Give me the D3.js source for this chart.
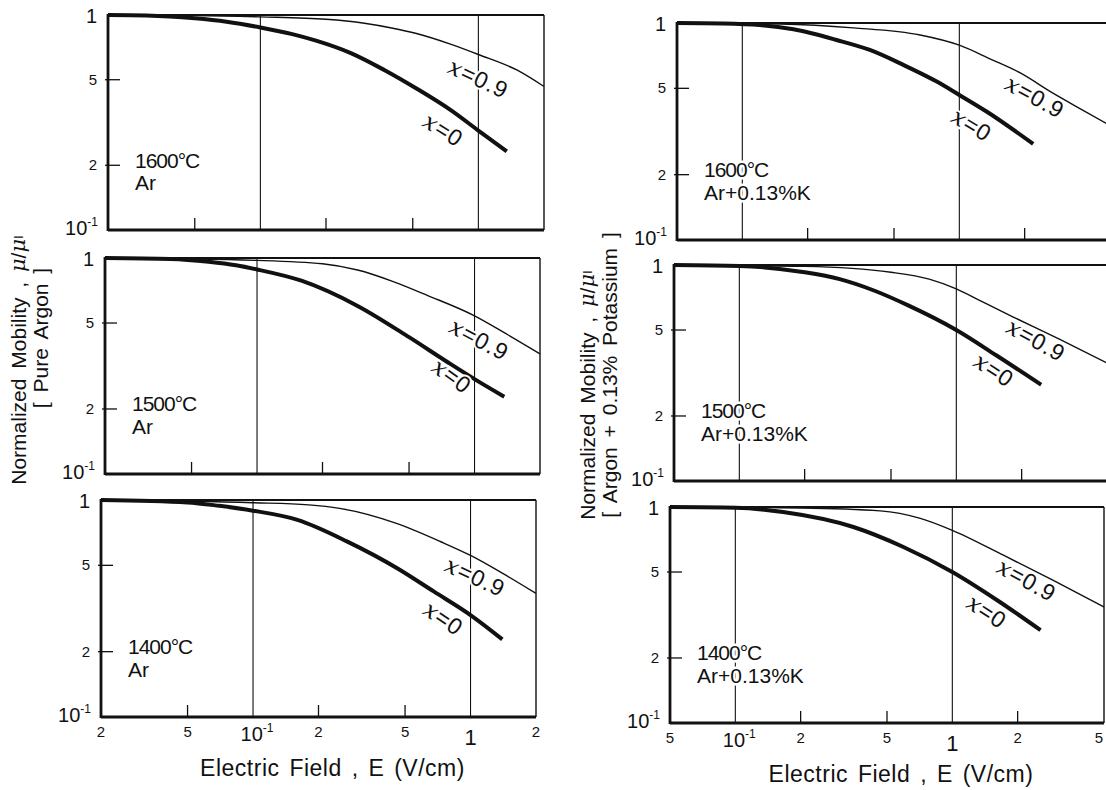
<!DOCTYPE html>
<html>
<head>
<meta charset="utf-8">
<script src="https://cdn.jsdelivr.net/npm/d3@7"></script>
<style>
  body { margin: 0; background: #fff; }
  svg text { font-family: "Liberation Sans", Arial, sans-serif; fill: #111; }
</style>
</head>
<body>
<script>
// values: E in V/cm, mobility as mu/mu_I

var tempLabels = ["1600°C", "1500°C", "1400°C"];
var gasLabels = ["Ar", "Ar+0.13%K"];
var fieldDomains = [[0.02, 2], [0.05, 5]];
var fieldTicks = [[0.02, 0.05, 0.1, 0.2, 0.5, 1, 2], [0.05, 0.1, 0.2, 0.5, 1, 2, 5]];
var minorTicks = [[0.05, 0.2, 0.5], [0.2, 0.5, 2]];
var gridE = [0.1, 1];
var muTicks = [1, 0.5, 0.2, 0.1];

// pure argon, x = 0 (thick) and x = 0.9 (thin)
var ar1600_x0  = [[0.02,1.0],[0.03,0.995],[0.05,0.965],[0.07,0.93],[0.1,0.875],[0.14,0.815],[0.18,0.76],[0.26,0.665],[0.37,0.555],[0.52,0.455],[0.75,0.36],[1.0,0.29],[1.35,0.232]];
var ar1600_x09 = [[0.02,1.0],[0.05,0.995],[0.1,0.98],[0.2,0.955],[0.3,0.915],[0.4,0.87],[0.52,0.82],[0.75,0.73],[1.0,0.655],[1.5,0.555],[2.0,0.465]];
var ar1500_x0  = [[0.02,1.0],[0.04,0.99],[0.06,0.96],[0.08,0.925],[0.1,0.885],[0.16,0.785],[0.29,0.6],[0.5,0.43],[0.75,0.33],[1.0,0.275],[1.37,0.228]];
var ar1500_x09 = [[0.02,1.0],[0.1,0.975],[0.2,0.94],[0.29,0.88],[0.42,0.78],[0.61,0.67],[1.0,0.54],[1.43,0.44],[2.0,0.36]];
var ar1400_x0  = [[0.02,1.0],[0.05,0.975],[0.07,0.94],[0.1,0.893],[0.16,0.81],[0.27,0.645],[0.46,0.485],[0.68,0.378],[1.0,0.295],[1.4,0.228]];
var ar1400_x09 = [[0.02,1.0],[0.1,0.972],[0.18,0.95],[0.25,0.915],[0.46,0.778],[0.73,0.642],[1.0,0.555],[1.4,0.46],[2.0,0.371]];

// argon + 0.13% potassium
var k1600_x0  = [[0.05,1.0],[0.08,0.995],[0.12,0.979],[0.172,0.935],[0.272,0.835],[0.387,0.751],[0.552,0.641],[0.787,0.537],[1.0,0.466],[1.34,0.39],[2.19,0.277]];
var k1600_x09 = [[0.05,1.0],[0.15,0.99],[0.325,0.95],[0.66,0.88],[1.0,0.79],[1.4,0.68],[1.9,0.59],[2.7,0.475],[3.7,0.397],[5,0.335]];
var k1500_x0  = [[0.05,1.0],[0.1,0.99],[0.2,0.925],[0.29,0.86],[0.42,0.76],[0.6,0.65],[1.0,0.5],[1.52,0.383],[2.46,0.279]];
var k1500_x09 = [[0.05,1.0],[0.2,0.985],[0.5,0.925],[0.75,0.86],[1.0,0.775],[1.3,0.68],[1.83,0.574],[3.0,0.452],[5.0,0.35]];
var k1400_x0  = [[0.05,1.0],[0.1,0.993],[0.166,0.948],[0.35,0.808],[0.595,0.653],[1.0,0.5],[1.61,0.37],[2.55,0.269]];
var k1400_x09 = [[0.05,1.0],[0.2,0.99],[0.466,0.96],[0.712,0.886],[1.0,0.78],[1.72,0.598],[2.92,0.457],[5.0,0.344]];

// where the "x = ..." labels sit (E, mu) and their slant
var x09LabelAt = [[1.0,0.507],[1.05,0.42],[1.05,0.443],[2.23,0.457],[2.33,0.449],[2.2,0.459]];
var x0LabelAt  = [[0.69,0.292],[0.787,0.284],[0.75,0.285],[1.14,0.339],[1.49,0.326],[1.44,0.328]];
var x09Angle = [25, 28, 25, 29, 29, 29];
var x0Angle  = [32, 36, 34, 31, 33, 33];

var thinCurves  = [ar1600_x09, ar1500_x09, ar1400_x09, k1600_x09, k1500_x09, k1400_x09];
var thickCurves = [ar1600_x0, ar1500_x0, ar1400_x0, k1600_x0, k1500_x0, k1400_x0];

// frames of the six panels (the scan is a little skewed)
var frames = [
  {x0:108, x1:544,  y0:15,  y1:230},
  {x0:105, x1:540,  y0:258, y1:474},
  {x0:101, x1:536,  y0:500, y1:717},
  {x0:677, x1:1111, y0:23,  y1:240},
  {x0:674, x1:1108, y0:265, y1:481},
  {x0:670, x1:1104, y0:507, y1:723}
];

var width = 1106, height = 790;
var svg = d3.select("body").append("svg")
    .attr("width", width).attr("height", height);

function mantissa(v) {
  var e = Math.floor(Math.log10(v) + 1e-9);
  return Math.round(v / Math.pow(10, e));
}

frames.forEach(function(f, i) {
  var col = i < 3 ? 0 : 1, row = i % 3;
  var x = d3.scaleLog().domain(fieldDomains[col]).range([f.x0, f.x1]);
  var y = d3.scaleLog().domain([0.1, 1]).range([f.y1, f.y0]);
  var g = svg.append("g");

  // vertical grid at 10^-1 and 1
  g.selectAll(".grid").data(gridE).enter().append("line")
    .attr("x1", function(d){ return x(d); }).attr("x2", function(d){ return x(d); })
    .attr("y1", f.y0).attr("y2", f.y1)
    .attr("stroke", "#111").attr("stroke-width", 1.1);

  // short ticks standing on the bottom axis
  g.selectAll(".minor").data(minorTicks[col]).enter().append("line")
    .attr("x1", function(d){ return x(d); }).attr("x2", function(d){ return x(d); })
    .attr("y1", f.y1).attr("y2", f.y1 - 12)
    .attr("stroke", "#111").attr("stroke-width", 1.3);

  // y ticks at 5 and 2
  g.selectAll(".ytick").data([0.5, 0.2]).enter().append("line")
    .attr("x1", f.x0 - 3).attr("x2", f.x0 + 12)
    .attr("y1", function(d){ return y(d); }).attr("y2", function(d){ return y(d); })
    .attr("stroke", "#111").attr("stroke-width", 1.3);

  var line = d3.line()
    .x(function(d){ return x(d[0]); })
    .y(function(d){ return y(d[1]); })
    .curve(d3.curveMonotoneX);

  g.append("path").datum(thinCurves[i]).attr("d", line)
    .attr("fill", "none").attr("stroke", "#111").attr("stroke-width", 1.4);
  g.append("path").datum(thickCurves[i]).attr("d", line)
    .attr("fill", "none").attr("stroke", "#111").attr("stroke-width", 4);

  // frame: heavy left/bottom, lighter top and right
  g.append("line").attr("x1", f.x0).attr("x2", f.x0).attr("y1", f.y0 - 1).attr("y2", f.y1 + 1)
    .attr("stroke", "#111").attr("stroke-width", 2.8);
  g.append("line").attr("x1", f.x0).attr("x2", f.x1).attr("y1", f.y1).attr("y2", f.y1)
    .attr("stroke", "#111").attr("stroke-width", 2.8);
  g.append("line").attr("x1", f.x0).attr("x2", f.x1).attr("y1", f.y0).attr("y2", f.y0)
    .attr("stroke", "#111").attr("stroke-width", 2.2);
  g.append("line").attr("x1", f.x1).attr("x2", f.x1).attr("y1", f.y0).attr("y2", f.y1)
    .attr("stroke", "#111").attr("stroke-width", 1.4);

  // y tick labels
  muTicks.forEach(function(v) {
    var t = g.append("text").attr("text-anchor", "end");
    if (v === 0.1) {
      t.attr("x", f.x0 - 10).attr("y", y(v) + 5).style("font-size", "20px");
      t.append("tspan").text("10");
      t.append("tspan").attr("dy", -9).style("font-size", "12px").text("-1");
    } else if (v === 1) {
      t.attr("x", f.x0 - 11).attr("y", y(v) + 8).style("font-size", "20px").text("1");
    } else {
      t.attr("x", f.x0 - 11).attr("y", y(v) + 5).style("font-size", "15px").text(mantissa(v));
    }
  });

  // x tick labels only under the bottom row
  if (row === 2) {
    fieldTicks[col].forEach(function(v) {
      var t = g.append("text").attr("text-anchor", "middle");
      var px = Math.min(x(v), width - 7);
      if (v === 0.1) {
        t.attr("x", px + 4).attr("y", f.y1 + 24).style("font-size", "20px");
        t.append("tspan").text("10");
        t.append("tspan").attr("dy", -9).style("font-size", "12px").text("-1");
      } else if (v === 1) {
        t.attr("x", px).attr("y", f.y1 + 28).style("font-size", "22px").text("1");
      } else {
        t.attr("x", px).attr("y", f.y1 + 20).style("font-size", "15px").text(mantissa(v));
      }
    });
    svg.append("text")
      .attr("x", (f.x0 + f.x1) / 2 + 14).attr("y", f.y1 + 59)
      .attr("text-anchor", "middle")
      .style("font-size", "23px").style("letter-spacing", "0.5px").style("word-spacing", "3px")
      .text("Electric Field , E (V/cm)");
  }

  // temperature / gas annotation
  var note = g.append("text").style("font-size", "21px")
    .style("stroke", "#fff").style("stroke-width", 5).style("paint-order", "stroke");
  note.append("tspan").attr("x", f.x0 + 27).attr("y", f.y0 + 0.71 * (f.y1 - f.y0))
    .style("letter-spacing", "-1px").text(tempLabels[row]);
  note.append("tspan").attr("x", f.x0 + 27).attr("y", f.y0 + 0.815 * (f.y1 - f.y0)).text(gasLabels[col]);

  // curve labels
  [[x09LabelAt[i], x09Angle[i], "0.9"], [x0LabelAt[i], x0Angle[i], "0"]].forEach(function(c) {
    var px = x(c[0][0]), py = y(c[0][1]);
    var t = g.append("text")
      .attr("transform", "translate(" + px + "," + py + ") rotate(" + c[1] + ")")
      .attr("text-anchor", "middle").attr("dominant-baseline", "central")
      .style("font-size", "23px").style("letter-spacing", "1px")
      .style("stroke", "#fff").style("stroke-width", 4).style("paint-order", "stroke");
    t.append("tspan").style("font-family", "'DejaVu Serif', serif").style("font-style", "italic").text("x");
    t.append("tspan").text("=" + c[2]);
  });
});

// y-axis titles
function yTitle(cx, cy, parts) {
  var t = svg.append("text")
    .attr("transform", "translate(" + cx + "," + cy + ") rotate(-90)")
    .attr("text-anchor", "middle").attr("dominant-baseline", "central")
    .style("font-size", "21px").style("word-spacing", "4px");
  parts.forEach(function(p) {
    var s = t.append("tspan").text(p[0]);
    if (p[1]) s.style("font-family", "'DejaVu Serif', serif").style("font-style", "italic");
    if (p[2]) s.style("font-size", "13px");
  });
}
yTitle(18, 360, [["Normalized Mobility , "], ["\u03bc", 1], ["/"], ["\u03bc", 1], ["I", 0, 1]]);
yTitle(40, 338, [["[ Pure Argon ]"]]);
yTitle(587, 395, [["Normalized Mobility , "], ["\u03bc", 1], ["/"], ["\u03bc", 1], ["I", 0, 1]]);
yTitle(609, 375, [["[ Argon + 0.13% Potassium ]"]]);
</script>
</body>
</html>
